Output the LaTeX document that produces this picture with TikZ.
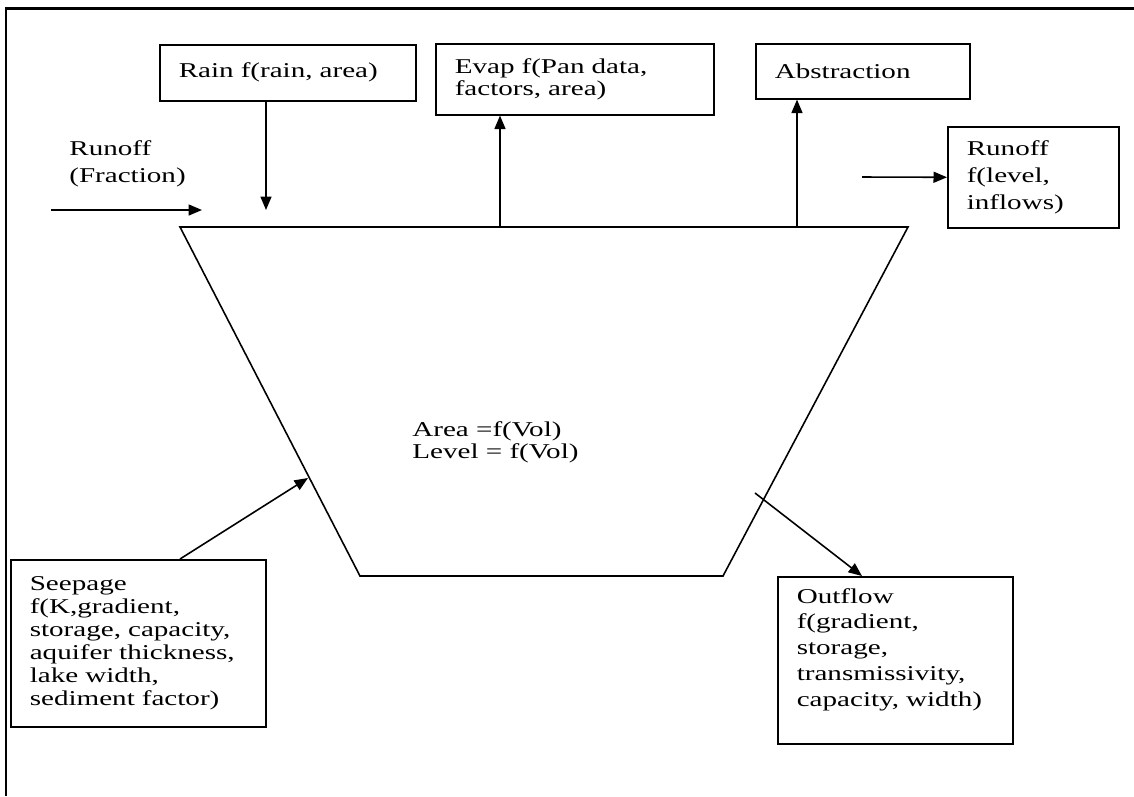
\documentclass[tikz,border=0pt]{standalone}
\usepackage{fontspec}
\setmainfont{Liberation Serif}[FakeStretch=1.38]
\usetikzlibrary{arrows.meta,positioning}

\begin{document}
\begin{tikzpicture}[x=0.02cm, y=-0.02cm,
    >={Triangle[length=0.27cm,width=0.22cm]},
    box/.style={draw, line width=0.9pt, inner xsep=0.38cm, inner ysep=0pt,
      align=left, anchor=north west, font=\fontsize{12}{14}\selectfont},
    label text/.style={anchor=base west, align=left, inner sep=0pt},
    flow/.style={->, line width=0.9pt}]
    \useasboundingbox (0,0) rectangle (1134,796);
    % ---- the frame (top and left only)
    \draw[line width=1.7pt] (6,796) -- (6,8) -- (1134,8);
    % ---- the lake
    \coordinate (tl) at (180,227);
    \coordinate (tr) at (908,227);
    \coordinate (br) at (723,576);
    \coordinate (bl) at (360,576);
    \draw[line width=0.9pt] (tl) -- (tr) -- (br) -- (bl) -- cycle;
    \node[label text, font=\fontsize{12}{10.8}\selectfont]
      (vol) at (412,458) {Area =f(Vol)\\Level = f(Vol)};
    % ---- the boxes
    \node[box, text width=4.36cm, minimum height=1.12cm] (rain) at (159,44)
      {Rain f(rain, area)};
    \node[box, text width=4.80cm, minimum height=1.42cm,
      font=\fontsize{12}{13}\selectfont] (evap) at (435,43)
      {Evap f(Pan data,\\factors, area)};
    \node[box, text width=3.52cm, minimum height=1.10cm] (abstr) at (755,43)
      {Abstraction};
    \node[box, text width=2.66cm, minimum height=2.02cm,
      font=\fontsize{12}{15.3}\selectfont] (roff) at (947,126)
      {Runoff\\f(level,\\inflows)};
    \node[box, text width=4.34cm, minimum height=3.34cm,
      font=\fontsize{12}{13}\selectfont] (seep) at (10,559)
      {Seepage\\f(K,gradient,\\storage, capacity,\\aquifer thickness,\\lake width,\\sediment factor)};
    \node[box, text width=3.94cm, minimum height=3.34cm,
      font=\fontsize{12}{14.7}\selectfont] (outf) at (777,576)
      {Outflow\\f(gradient,\\storage,\\transmissivity,\\capacity, width)\\\mbox{}};
    \node[label text, font=\fontsize{12}{15.3}\selectfont]
      (rfrac) at (69,182) {Runoff\\(Fraction)};
    % ---- the flows
    \coordinate (rainend) at (266,210);
    \draw[flow] (rain.south -| rainend) -- (rainend);
    \coordinate (evapfoot) at (500,227);
    \draw[flow] (evapfoot) -- (evap.south -| evapfoot);
    \coordinate (absfoot) at (797,227);
    \draw[flow] (absfoot) -- (abstr.south -| absfoot);
    \coordinate (inflow) at (51,210);
    \coordinate (inend) at (202,210);
    \draw[flow] (inflow) -- (inend);
    \coordinate (roffstart) at (862,177);
    \draw[flow] (roffstart) -- (roff.west);
    \coordinate (seepx) at (180,0);
    \coordinate (seepend) at (308,478);
    \draw[flow] (seep.north -| seepx) -- (seepend);
    \coordinate (outstart) at (755,493);
    \coordinate (outx) at (862,0);
    \draw[flow] (outstart) -- (outf.north -| outx);
\end{tikzpicture}
\end{document}
